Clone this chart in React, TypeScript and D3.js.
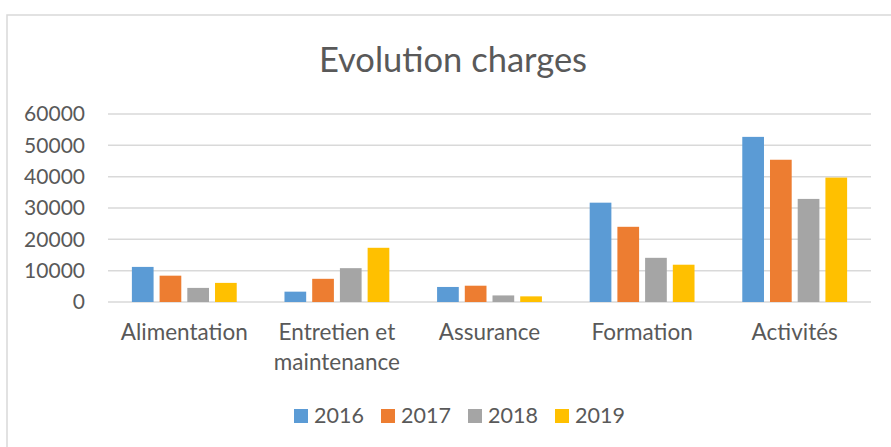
import { useEffect, useRef } from 'react'
import * as d3 from 'd3'

const CATEGORIES = ['Alimentation', 'Entretien et maintenance', 'Assurance', 'Formation', 'Activités']
const YEARS = ['2016', '2017', '2018', '2019']
const V2016 = [11200, 3300, 4800, 31700, 52700]
const V2017 = [8400, 7400, 5200, 24000, 45400]
const V2018 = [4500, 10800, 2100, 14100, 32900]
const V2019 = [6100, 17300, 1800, 11900, 39700]
const Y_TICKS = [0, 10000, 20000, 30000, 40000, 50000, 60000]

const SERIES = [V2016, V2017, V2018, V2019]
const COLORS = ['#5B9BD5', '#ED7D31', '#A5A5A5', '#FFC000']
const FONT = 'Lato, "Open Sans", sans-serif'
const TEXT = '#595959'
const GRID = '#D9D9D9'

const W = 891
const H = 447
const M = { l: 108, r: 20, t: 114, b: 145 }

// wrap category labels on a fixed width, like the spreadsheet does
function wrapLines(label: string): string[] {
  if (label.length < 16) return [label]
  const words = label.split(' ')
  return [words.slice(0, -1).join(' '), words[words.length - 1]]
}

export default function App() {
  const ref = useRef<SVGSVGElement>(null)

  useEffect(() => {
    const svg = d3.select(ref.current)
    svg.selectAll('*').remove()

    const innerW = W - M.l - M.r
    const innerH = H - M.t - M.b

    const x0 = d3.scaleBand().domain(CATEGORIES).range([0, innerW]).paddingInner(0.313).paddingOuter(0.1565)
    const x1 = d3.scaleBand().domain(YEARS).range([0, x0.bandwidth()]).paddingInner(0.217)
    const y = d3.scaleLinear().domain([0, 60000]).range([innerH, 0])

    // chart frame (only top and left are visible in the crop)
    svg.append('rect')
      .attr('x', 7).attr('y', 15)
      .attr('width', W + 10).attr('height', H + 10)
      .attr('fill', '#fff')
      .attr('stroke', GRID).attr('stroke-width', 1.5)

    svg.append('text')
      .attr('x', 453).attr('y', 72)
      .attr('text-anchor', 'middle')
      .attr('font-family', FONT).attr('font-size', 34.5)
      .attr('fill', TEXT)
      .text('Evolution charges')

    const g = svg.append('g').attr('transform', `translate(${M.l},${M.t})`)

    // gridlines
    g.selectAll('line.grid')
      .data(Y_TICKS)
      .join('line')
      .attr('class', 'grid')
      .attr('x1', 0).attr('x2', innerW)
      .attr('y1', d => y(d)).attr('y2', d => y(d))
      .attr('stroke', GRID).attr('stroke-width', 1.5)

    // y labels
    g.selectAll('text.ytick')
      .data(Y_TICKS)
      .join('text')
      .attr('class', 'ytick')
      .attr('x', -23).attr('y', d => y(d))
      .attr('dy', '0.35em')
      .attr('text-anchor', 'end')
      .attr('font-family', FONT).attr('font-size', 21)
      .attr('fill', TEXT)
      .text(d => String(d))

    // bars
    const groups = g.selectAll('g.cat')
      .data(CATEGORIES)
      .join('g')
      .attr('class', 'cat')
      .attr('transform', d => `translate(${x0(d)},0)`)

    groups.selectAll('rect')
      .data((_, ci) => SERIES.map((s, si) => ({ year: YEARS[si], value: s[ci], si })))
      .join('rect')
      .attr('x', d => x1(d.year)!)
      .attr('y', d => y(d.value))
      .attr('width', x1.bandwidth())
      .attr('height', d => innerH - y(d.value))
      .attr('fill', d => COLORS[d.si])

    // category labels
    groups.each(function (d) {
      const lines = wrapLines(d)
      const t = d3.select(this).append('text')
        .attr('x', x0.bandwidth() / 2)
        .attr('y', innerH + 38)
        .attr('text-anchor', 'middle')
        .attr('font-family', FONT).attr('font-size', 22.5)
        .attr('fill', TEXT)
      lines.forEach((line, i) => {
        t.append('tspan')
          .attr('x', x0.bandwidth() / 2)
          .attr('dy', i === 0 ? 0 : 30)
          .text(line)
      })
    })

    // legend
    const legend = svg.append('g').attr('transform', 'translate(294,409)')
    const item = legend.selectAll('g')
      .data(YEARS)
      .join('g')
      .attr('transform', (_, i) => `translate(${i * 87},0)`)
    item.append('rect')
      .attr('width', 14).attr('height', 14)
      .attr('fill', (_, i) => COLORS[i])
    item.append('text')
      .attr('x', 20).attr('y', 14)
      .attr('font-family', FONT).attr('font-size', 21.5)
      .attr('fill', TEXT)
      .text(d => d)
  }, [])

  return (
    <svg
      ref={ref}
      width={W}
      height={H}
      style={{ position: 'fixed', left: 0, top: 0, display: 'block', background: '#fff' }}
    />
  )
}
